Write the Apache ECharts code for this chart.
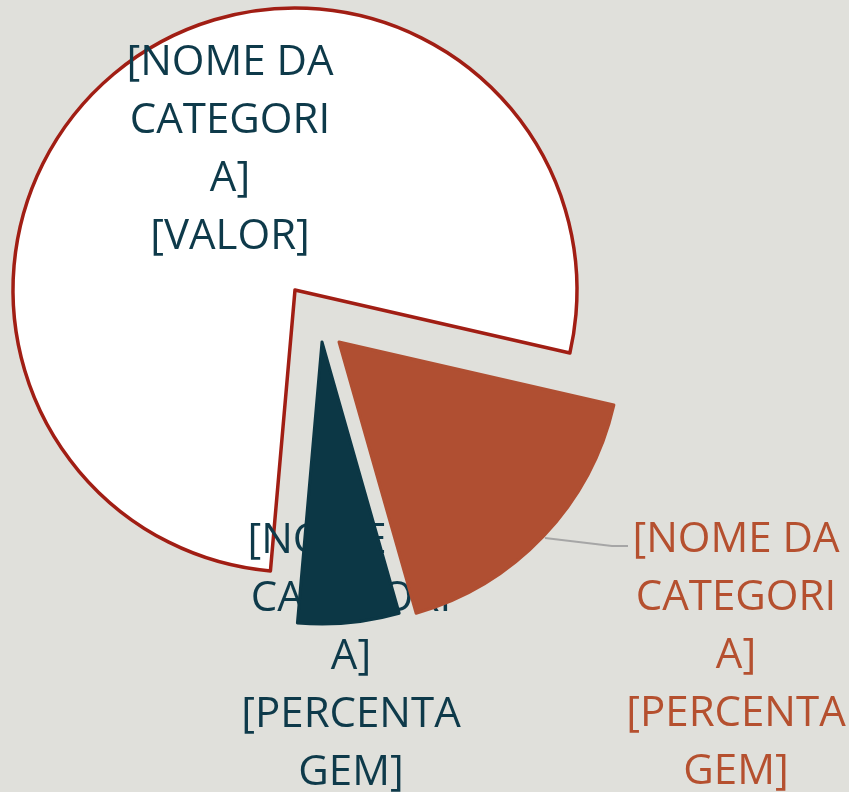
<!DOCTYPE html>
<html>
<head>
<meta charset="utf-8">
<script src="https://cdn.jsdelivr.net/npm/echarts@6/dist/echarts.min.js"></script>
<style>
html,body{margin:0;padding:0;background:#e0e0db;}
#chart{width:849px;height:792px;}
</style>
</head>
<body>
<div id="chart"></div>
<script>
// Data
const categories = ['Categoria 1', 'Categoria 2', 'Categoria 3'];
const values = [77.2, 17.0, 5.8];
const labelTexts = [
  '[NOME DA\nCATEGORI\nA]\n[VALOR]',
  '[NOME DA\nCATEGORI\nA]\n[PERCENTA\nGEM]',
  '[NOME DA\nCATEGORI\nA]\n[PERCENTA\nGEM]'
];

// Styles / layout
const fillColors = ['#ffffff', '#b04f32', '#0c3745'];
const textColors = ['#0e3a4a', '#b5502f', '#0e3a4a'];
const sliceCenters = [[295, 290], [339, 342], [322, 342]]; // exploded slice centres
const seriesZ = [1, 3, 4];
const labelPos = [[230, 150], [736, 656], [351, 657]];
const leaderPoints = [[545, 538], [612, 546], [628, 546]];
const FONT = '"Open Sans", "Noto Sans", sans-serif';
const TRANSPARENT = 'rgba(0,0,0,0)';

function buildSeries(k) {
  return {
    type: 'pie',
    center: sliceCenters[k],
    radius: [0, 282],
    startAngle: 265,
    clockwise: true,
    avoidLabelOverlap: false,
    animation: false,
    silent: true,
    z: seriesZ[k],
    emphasis: { disabled: true, scale: false },
    label: { show: k === 0, position: 'outside' },
    labelLine: { show: false },
    labelLayout: k === 0 ? function (p) {
      const pos = labelPos[p.dataIndex];
      const out = { x: pos[0], y: pos[1], align: 'center', verticalAlign: 'middle' };
      if (p.dataIndex === 1) out.labelLinePoints = leaderPoints;
      return out;
    } : null,
    data: categories.map((c, i) => {
      let itemStyle;
      if (i !== k) itemStyle = { color: TRANSPARENT, borderWidth: 0 };
      else if (i === 0) itemStyle = { color: fillColors[0], borderColor: '#a11e14', borderWidth: 3.5 };
      else itemStyle = { color: fillColors[i], borderColor: fillColors[i], borderWidth: 3, borderJoin: 'round' };
      const item = { name: c, value: values[i], itemStyle: itemStyle };
      if (k === 0) {
        item.label = {
          show: true,
          formatter: labelTexts[i],
          color: textColors[i],
          fontFamily: FONT,
          fontSize: 42,
          lineHeight: 58,
          align: 'center'
        };
        item.labelLine = {
          show: i === 1,
          lineStyle: { color: '#a6a6a6', width: 2 }
        };
      }
      return item;
    })
  };
}

const chart = echarts.init(document.getElementById('chart'), null, { renderer: 'canvas' });
chart.setOption({
  backgroundColor: '#e0e0db',
  series: [buildSeries(0), buildSeries(1), buildSeries(2)]
});
</script>
</body>
</html>
